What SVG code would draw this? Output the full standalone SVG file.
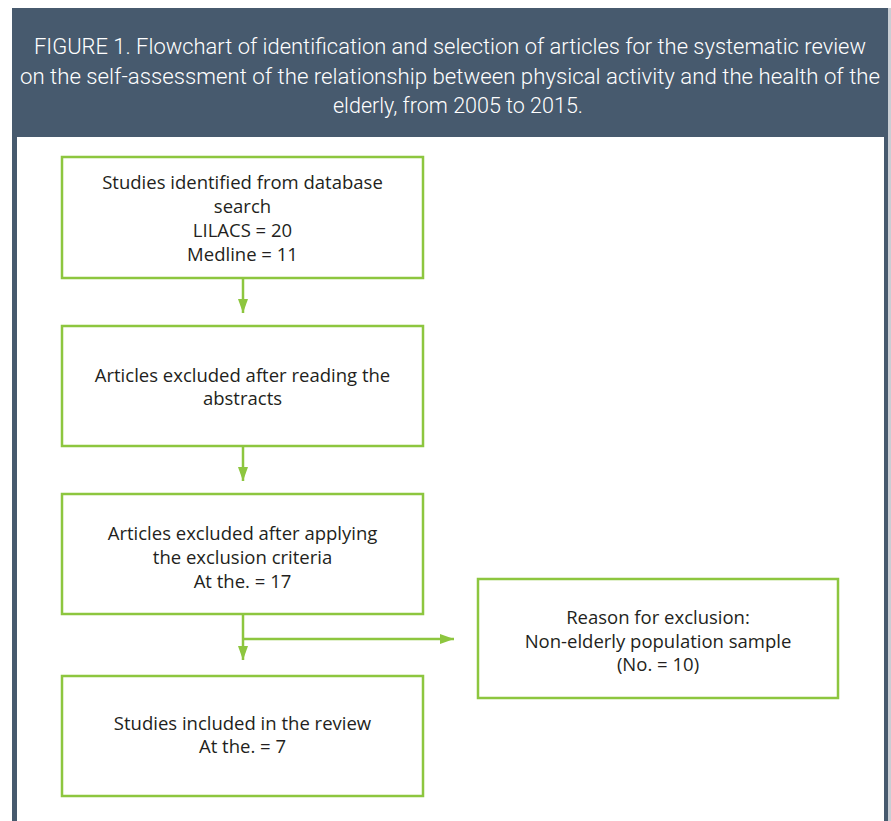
<svg xmlns="http://www.w3.org/2000/svg" width="891" height="821" viewBox="0 0 891 821">
<style>
.box{fill:#ffffff;stroke:#8dc63f;stroke-width:2.5}
.t{font-family:"Open Sans","Liberation Sans",sans-serif;font-size:18.5px;fill:#231f20;text-anchor:middle}
.h{font-family:Roboto,"Liberation Sans",sans-serif;font-size:22px;font-weight:300;fill:#ffffff;text-anchor:middle}
.c{fill:none;stroke:#8dc63f;stroke-width:2.5}
</style>
<defs>
<marker id="ah" viewBox="0 0 14 10" refX="14" refY="5" markerWidth="5.6" markerHeight="4" orient="auto" markerUnits="strokeWidth">
<path d="M0,0 L14,5 L0,10 Z" fill="#8dc63f"/>
</marker>
</defs>
<rect x="0" y="0" width="891" height="821" fill="#ffffff"/>
<g id="frame">
<rect x="12" y="8" width="876" height="129" fill="#475a6e"/>
<rect x="12" y="8" width="5" height="813" fill="#475a6e"/>
<rect x="884" y="8" width="4" height="813" fill="#475a6e"/>
<rect x="888" y="8" width="3" height="813" fill="#c9ced4"/>
<text class="h" x="450" y="54" textLength="832" lengthAdjust="spacingAndGlyphs">FIGURE 1. Flowchart of identification and selection of articles for the systematic review</text>
<text class="h" x="450" y="84" textLength="860" lengthAdjust="spacingAndGlyphs">on the self-assessment of the relationship between physical activity and the health of the</text>
<text class="h" x="458" y="113" textLength="250" lengthAdjust="spacingAndGlyphs">elderly, from 2005 to 2015.</text>
</g>
<g id="connectors">
<path class="c" d="M243,278 V313" marker-end="url(#ah)"/>
<path class="c" d="M243,446 V481" marker-end="url(#ah)"/>
<path class="c" d="M243,614 V660" marker-end="url(#ah)"/>
<path class="c" d="M243,639 H454" marker-end="url(#ah)"/>
</g>
<g id="n1">
<rect class="box" x="62" y="157" width="361" height="121"/>
<text class="t" x="242.5" y="189">Studies identified from database</text>
<text class="t" x="242.5" y="213">search</text>
<text class="t" x="242.5" y="237">LILACS = 20</text>
<text class="t" x="242.5" y="261">Medline = 11</text>
</g>
<g id="n2">
<rect class="box" x="62" y="326" width="361" height="120"/>
<text class="t" x="242.5" y="382">Articles excluded after reading the</text>
<text class="t" x="242.5" y="405">abstracts</text>
</g>
<g id="n3">
<rect class="box" x="62" y="494" width="361" height="120"/>
<text class="t" x="242.5" y="540">Articles excluded after applying</text>
<text class="t" x="242.5" y="564">the exclusion criteria</text>
<text class="t" x="242.5" y="588">At the. = 17</text>
</g>
<g id="n4">
<rect class="box" x="478" y="579" width="360" height="119"/>
<text class="t" x="658" y="624">Reason for exclusion:</text>
<text class="t" x="658" y="648">Non-elderly population sample</text>
<text class="t" x="658" y="671">(No. = 10)</text>
</g>
<g id="n5">
<rect class="box" x="62" y="676" width="361" height="120"/>
<text class="t" x="242.5" y="730">Studies included in the review</text>
<text class="t" x="242.5" y="753">At the. = 7</text>
</g>
</svg>
